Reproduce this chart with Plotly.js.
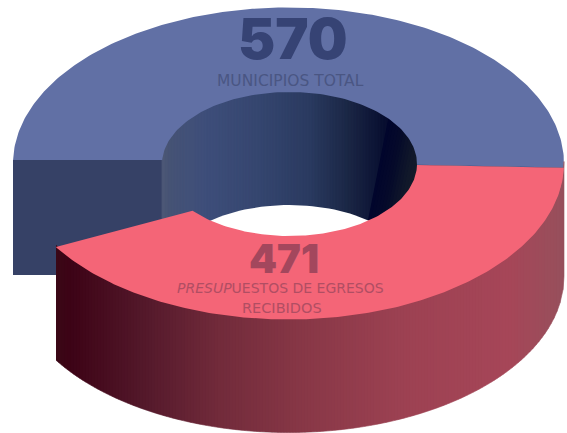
<!DOCTYPE html>
<html>
<head>
<meta charset="utf-8">
<script src="https://cdn.plot.ly/plotly-3.0.1.min.js"></script>
<style>html,body{margin:0;padding:0;background:#fff;overflow:hidden}#c{width:567px;height:433px}</style>
</head>
<body>
<div id="c"></div>
<script>
// Data
const categories = ["MUNICIPIOS TOTAL", "PRESUPUESTOS DE EGRESOS RECIBIDOS"];
const values = [570, 471];

// Ring geometry of the picture (in chart units, y downwards)
const outer = {cx: 288.5, cy: 163.5, rx: 275.5, ry: 156};
const inner = {cx: 289.5, cy: 164, rx: 127.5, ry: 72};
const depth = 113;

// Colours
const blueTop = "#6170a5", blueWall = "#364166", redTop = "#f46577";
const redWallStops = [[56,"#3a0816"],[70,"#3c0316"],[150,"#561a2c"],[220,"#722b3b"],[300,"#873746"],[400,"#9c4152"],[510,"#a64658"],[565,"#96505c"]];
const holeStops = [[162,"#4d5876"],[170,"#465375"],[205,"#3e4e7a"],[260,"#35466f"],[310,"#2a3a60"],[350,"#1a2644"],[385,"#080e30"]];
const holeDarkStops = [[380,"#00042c"],[395,"#050a2a"],[410,"#10172a"],[428,"#182028"]];

function hex(c){return [1,3,5].map(i=>parseInt(c.substr(i,2),16));}
function grad(stops,x){
  if(x<=stops[0][0])return stops[0][1];
  for(let i=1;i<stops.length;i++){
    if(x<=stops[i][0]){
      const f=(x-stops[i-1][0])/(stops[i][0]-stops[i-1][0]);
      const a=hex(stops[i-1][1]),b=hex(stops[i][1]);
      return "rgb("+a.map((v,k)=>Math.round(v+(b[k]-v)*f)).join(",")+")";
    }
  }
  return stops[stops.length-1][1];
}
function arc(e,t0,t1,n){
  const xs=[],ys=[];
  for(let i=0;i<=n;i++){
    const t=(t0+(t1-t0)*i/n)*Math.PI/180;
    xs.push(e.cx+e.rx*Math.cos(t));ys.push(e.cy+e.ry*Math.sin(t));
  }
  return [xs,ys];
}
function poly(xs,ys,color,lw){
  return {type:"scatter",mode:"lines",x:xs,y:ys,fill:"toself",fillcolor:color,
    line:{color:color,width:lw===undefined?0.6:lw},hoverinfo:"skip",showlegend:false};
}
const traces=[];

// Blue cut face
traces.push(poly([13,163,163,13,13],[160,160,275,275,160],blueWall,0));

// Hole wall
for(let x=162;x<390;x+=3){
  traces.push(poly([x,x+3,x+3,x,x],[85,85,245,245,85],grad(holeStops,x+1.5),0.8));
}
const slant=0.2;
for(let u=380;u<428;u+=3){
  const xa=y=>u-(y-160)*slant, xb=y=>u+4-(y-160)*slant;
  traces.push(poly([xa(85),xb(85),xb(245),xa(245),xa(85)],[85,85,245,245,85],grad(holeDarkStops,u+1.5),0));
}

// Floor of the hole (see-through)
const floor=arc({cx:inner.cx,cy:inner.cy+depth,rx:inner.rx,ry:inner.ry},0,360,140);
traces.push(poly(floor[0],floor[1],"#ffffff",0));

// Blue top face
const bo=arc(outer,181.3,361.6,200), bi=arc(inner,360.8,183.2,120);
traces.push(poly(bo[0].concat(bi[0]),bo[1].concat(bi[1]),blueTop,0));

// Blue seam on the right
const s0=arc(inner,0.8,0.8,1), s1=arc(outer,1.6,1.6,1);
traces.push({type:"scatter",mode:"lines",x:[s0[0][0],s1[0][0]],y:[s0[1][0]+0.6,s1[1][0]+0.6],
  line:{color:blueWall,width:1.8},hoverinfo:"skip",showlegend:false});

// Red outer wall
const ey=x=>{const d=(x-outer.cx)/outer.rx;return outer.cy+outer.ry*Math.sqrt(Math.max(0,1-d*d));};
for(let x=56;x<564;x+=3){
  const xs=[],top=[],bot=[];
  for(let k=0;k<=3;k++){const xx=Math.min(x+k,564);xs.push(xx);top.push(ey(xx)-2);bot.push(ey(xx)+depth);}
  traces.push(poly(xs.concat(xs.slice().reverse()),top.concat(bot.reverse()),grad(redWallStops,x+1.5)));
}

// Red top face
const ro=arc(outer,1.6,147.6,200), ri=arc(inner,139.5,0.8,120);
traces.push(poly(ro[0].concat(ri[0]),ro[1].concat(ri[1]),redTop,0));

const labelFont="DejaVu Sans";
const layout={
  width:567,height:433,margin:{l:0,r:0,t:0,b:0},
  paper_bgcolor:"#ffffff",plot_bgcolor:"#ffffff",showlegend:false,
  xaxis:{range:[0,567],visible:false,fixedrange:true},
  yaxis:{range:[433,0],visible:false,fixedrange:true},
  annotations:[
    {x:292.5,y:39,xref:"x",yref:"y",showarrow:false,text:String(values[0]),
     font:{family:"Inter",size:56,color:"#364374",weight:900}},
    {x:290.5,y:81,xref:"x",yref:"y",showarrow:false,text:categories[0],
     font:{family:labelFont,size:15.5,color:"#4a5683"}},
    {x:283.5,y:258,xref:"x",yref:"y",showarrow:false,text:String(values[1]),
     font:{family:"Inter",size:40,color:"#a3475d",weight:900}},
    {x:280.5,y:288,xref:"x",yref:"y",showarrow:false,text:"<i>PRESUP</i>UESTOS DE EGRESOS",
     font:{family:labelFont,size:14,color:"#b04e63"}},
    {x:282,y:308,xref:"x",yref:"y",showarrow:false,text:"RECIBIDOS",
     font:{family:labelFont,size:14.5,color:"#b04e63"}}
  ]
};
Plotly.newPlot("c",traces,layout,{displayModeBar:false,staticPlot:true});
</script>
</body>
</html>
